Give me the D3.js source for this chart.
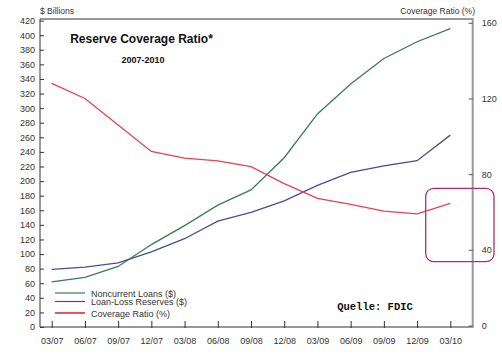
<!DOCTYPE html>
<html><head><meta charset="utf-8">
<script src="https://cdn.jsdelivr.net/npm/d3@7"></script>
<style>
body{margin:0;background:#fff;}
svg{display:block;font-family:"Liberation Sans",Arial,Helvetica,sans-serif;}
</style></head>
<body><svg id="c" width="502" height="358"></svg>
<script>
const categories = ["03/07","06/07","09/07","12/07","03/08","06/08","09/08","12/08","03/09","06/09","09/09","12/09","03/10"];
const noncurrentLoans = [62,68,83,113,139,167,188,232,292,333,368,391,409];
const lossReserves = [79,82,88,103,121,145,157,173,194,212,221,228,263];
const coverageRatio = [128,120,106,92,88.5,87,84,75,67.2,64,60.5,59,64.5];
const leftTicks = d3.range(0,421,20);
const rightTicks = [0,40,80,120,160];
const seriesNames = ["Noncurrent Loans ($)","Loan-Loss Reserves ($)","Coverage Ratio (%)"];
const colors = ["#3a7a5c","#4a4a9a","#e8414e"];

const svg = d3.select("#c");
const L = 40, R = 472.7, T = 19, B = 327;
const x = d3.scalePoint().domain(categories).range([51.7,450.3]);
const yL = d3.scaleLinear().domain([0,420]).range([B,20.6]);
const yR = d3.scaleLinear().domain([0,160]).range([B-1.5,22.8]);

svg.append("line").attr("x1",L).attr("x2",R).attr("y1",T).attr("y2",T).attr("stroke","#333").attr("stroke-width",1);

const gL = svg.append("g").attr("transform",`translate(${L},0)`)
  .call(d3.axisRight(yL).tickValues(leftTicks).tickSize(4).tickSizeOuter(0));
gL.select(".domain").attr("d",`M0,${T}V${B}`).attr("stroke","#333");
gL.selectAll(".tick line").attr("stroke","#333");
gL.selectAll(".tick text").attr("text-anchor","end").attr("x",-5).attr("font-size",9).attr("fill","#333");

const gB = svg.append("g").attr("transform",`translate(0,${B})`)
  .call(d3.axisBottom(x).tickSize(0).tickPadding(11));
gB.select(".domain").attr("d",`M${L},0H${R}`).attr("stroke","#333");
gB.selectAll(".tick").append("line").attr("y1",-6).attr("y2",1).attr("stroke","#333");
gB.selectAll(".tick text").attr("font-size",9).attr("fill","#333");

const gR = svg.append("g").attr("transform",`translate(${R},0)`)
  .call(d3.axisLeft(yR).tickValues(rightTicks).tickSize(4).tickSizeOuter(0));
gR.select(".domain").attr("d",`M0,${T-1}V${B+1}`).attr("stroke","#999").attr("stroke-width",2);
gR.selectAll(".tick line").attr("stroke","#555");
gR.selectAll(".tick text").attr("text-anchor","start").attr("x",9).attr("font-size",9).attr("fill","#333");

svg.append("text").attr("x",40).attr("y",14).attr("font-size",8.5).attr("fill","#333").text("$ Billions");
svg.append("text").attr("x",475).attr("y",14).attr("text-anchor","end").attr("font-size",8.5).attr("fill","#333").text("Coverage Ratio (%)");

svg.append("text").attr("x",141.5).attr("y",43).attr("text-anchor","middle").attr("font-size",12).attr("font-weight","bold").attr("fill","#111").text("Reserve Coverage Ratio*");
svg.append("text").attr("x",143).attr("y",63).attr("text-anchor","middle").attr("font-size",9).attr("font-weight","bold").attr("fill","#111").text("2007-2010");

const lineL = d3.line().x((d,i)=>x(categories[i])).y(d=>yL(d));
const lineR = d3.line().x((d,i)=>x(categories[i])).y(d=>yR(d));
svg.append("path").attr("d",lineL(noncurrentLoans)).attr("fill","none").attr("stroke",colors[0]).attr("stroke-width",1.3);
svg.append("path").attr("d",lineL(lossReserves)).attr("fill","none").attr("stroke",colors[1]).attr("stroke-width",1.3);
svg.append("path").attr("d",lineR(coverageRatio)).attr("fill","none").attr("stroke",colors[2]).attr("stroke-width",1.3);

const legY = [293,301.5,313];
seriesNames.forEach((n,i)=>{
  svg.append("line").attr("x1",55).attr("x2",85).attr("y1",legY[i]).attr("y2",legY[i]).attr("stroke",colors[i]).attr("stroke-width",i===2?1.8:1.2);
  svg.append("text").attr("x",91).attr("y",legY[i]+3.5).attr("font-size",9).attr("fill","#333").text(n);
});

svg.append("text").attr("x",375).attr("y",310).attr("text-anchor","middle").attr("font-family","'Liberation Mono','Courier New',monospace").attr("font-weight","bold").attr("font-size",10.5).attr("fill","#111").text("Quelle: FDIC");

svg.append("rect").attr("x",425.7).attr("y",188.3).attr("width",68.3).attr("height",73.4).attr("rx",8).attr("fill","none").attr("stroke","#b8286f").attr("stroke-width",1.3);
</script></body></html>
